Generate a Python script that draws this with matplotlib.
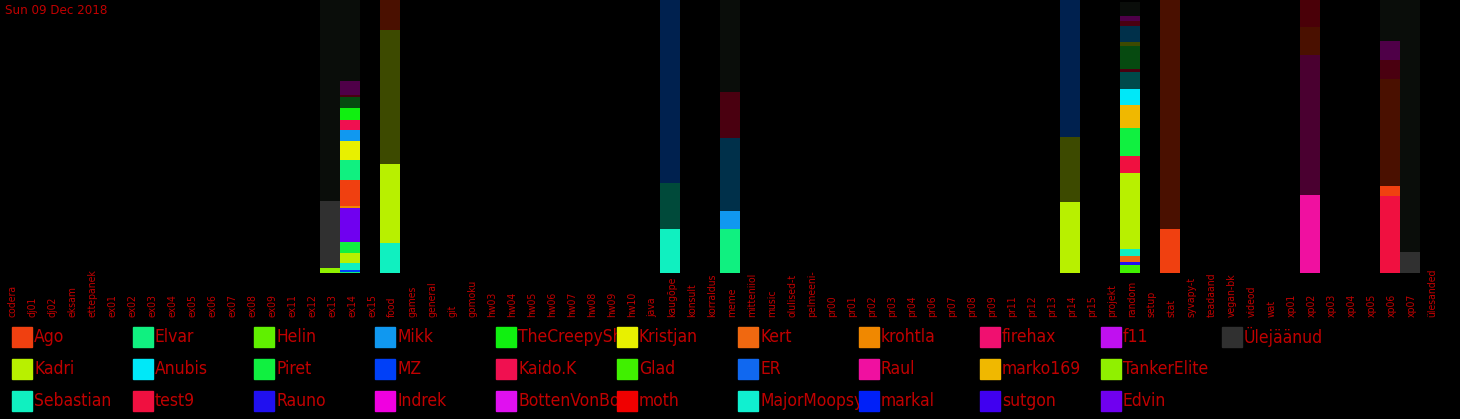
import matplotlib
matplotlib.use('Agg')
import matplotlib.pyplot as plt
from matplotlib import font_manager
from matplotlib.patches import Rectangle
from matplotlib.transforms import Bbox

# channels on the x axis
channels = ['codera', 'dj01', 'dj02', 'eksam', 'ettepanek', 'ex01', 'ex02', 'ex03', 'ex04',
            'ex05', 'ex06', 'ex07', 'ex08', 'ex09', 'ex11', 'ex12', 'ex13', 'ex14', 'ex15',
            'food', 'games', 'general', 'git', 'gomoku', 'hw03', 'hw04', 'hw05', 'hw06',
            'hw07', 'hw08', 'hw09', 'hw10', 'java', 'kaugõpe', 'konsult', 'korraldus', 'meme',
            'mitteniiol', 'music', 'olulised-t', 'pelmeeni-', 'pr00', 'pr01', 'pr02', 'pr03',
            'pr04', 'pr06', 'pr07', 'pr08', 'pr09', 'pr11', 'pr12', 'pr13', 'pr14', 'pr15',
            'projekt', 'random', 'setup', 'stat', 'syvapy-t', 'teadaand', 'vegan-bk', 'videod',
            'wat', 'xp01', 'xp02', 'xp03', 'xp04', 'xp05', 'xp06', 'xp07', 'ülesanded']

# legend users (column-major order as in the picture)
users = ['Ago', 'Kadri', 'Sebastian', 'Elvar', 'Anubis', 'test9', 'Helin', 'Piret', 'Rauno',
         'Mikk', 'MZ', 'Indrek', 'TheCreepySh', 'Kaido.K', 'BottenVonBot', 'Kristjan', 'Glad',
         'moth', 'Kert', 'ER', 'MajorMoopsy', 'krohtla', 'Raul', 'markal', 'firehax',
         'marko169', 'sutgon', 'f11', 'TankerElite', 'Edvin', 'Ülejäänud']
user_colors = ['#f04010', '#b8f000', '#10f0c0', '#10f080', '#00e8f8', '#f01040', '#60f000',
               '#10f040', '#2010f0', '#1098f0', '#0040f8', '#f000e0', '#10f010', '#f01050',
               '#e010f0', '#e8f000', '#40f000', '#f00000', '#f06810', '#1068f0', '#10f0d0',
               '#f08800', '#f010a0', '#0020f8', '#f01070', '#f0b800', '#4000f0', '#c010f0',
               '#90f000', '#7000f0', '#303030']

# dim segments without a legend entry
dim_colors = {'dk_grey': '#0a0d0a', 'dk_olive': '#3d4a00', 'dk_brown': '#4a1000',
              'dk_navy': '#00214f', 'dk_teal': '#004a3a', 'dk_blue': '#00304a',
              'dk_wine': '#4a0010', 'dk_plum': '#4a0030', 'dk_purple': '#4f0048',
              'dk_green': '#064a10', 'dk_cyan': '#004a4a', 'dk_red': '#4a0008'}

# share of each channel per user, bottom to top (percent)
ex13 = [('TankerElite', 1.8), ('Ülejäänud', 24.5), ('dk_grey', 73.7)]
ex14 = [('Elvar', 0.4), ('MZ', 0.7), ('Sebastian', 2.6), ('Kadri', 3.7), ('Piret', 4.0),
        ('Edvin', 12.5), ('krohtla', 0.7), ('Ago', 9.5), ('Elvar', 7.3), ('Kristjan', 7.0),
        ('Mikk', 4.0), ('Kaido.K', 3.7), ('TheCreepySh', 4.4), ('dk_green', 3.8),
        ('dk_wine', 1.0), ('dk_purple', 5.1), ('dk_grey', 29.6)]
food = [('Sebastian', 11.0), ('Kadri', 28.9), ('dk_olive', 49.1), ('dk_brown', 11.0)]
kaugope = [('Sebastian', 16.1), ('dk_teal', 16.9), ('dk_navy', 67.0)]
meme = [('Elvar', 16.1), ('Mikk', 6.6), ('dk_blue', 26.7), ('dk_wine', 16.9), ('dk_grey', 33.7)]
pr14 = [('Kadri', 26.0), ('dk_olive', 23.8), ('dk_navy', 50.2)]
random_ch = [('Glad', 2.9), ('Rauno', 1.1), ('Kert', 2.2), ('Sebastian', 2.6), ('Kadri', 27.8),
             ('test9', 6.2), ('Piret', 10.3), ('marko169', 8.4), ('Anubis', 5.9),
             ('dk_cyan', 6.2), ('dk_wine', 1.1), ('dk_green', 8.4), ('dk_olive', 1.5),
             ('dk_blue', 5.9), ('dk_wine', 1.8), ('dk_purple', 1.8), ('dk_grey', 5.3)]
stat = [('Ago', 16.1), ('dk_brown', 83.9)]
xp02 = [('Raul', 28.6), ('dk_plum', 51.3), ('dk_brown', 10.2), ('dk_red', 9.9)]
xp06 = [('test9', 28.2), ('Ago', 3.7), ('dk_brown', 39.2), ('dk_wine', 7.0),
        ('dk_purple', 7.0), ('dk_grey', 14.9)]
xp07 = [('Ülejäänud', 7.7), ('dk_grey', 92.3)]

bars = {'ex13': ex13, 'ex14': ex14, 'food': food, 'kaugõpe': kaugope, 'meme': meme,
        'pr14': pr14, 'random': random_ch, 'stat': stat, 'xp02': xp02, 'xp06': xp06,
        'xp07': xp07}

title = 'Sun 09 Dec 2018'
txt_color = '#c00000'

# look for some narrow font, the original uses a very condensed face
narrow = None
for f in font_manager.fontManager.ttflist:
    if 'Narrow' in f.name or 'Condensed' in f.name or 'condensed' in str(f.stretch):
        if f.weight in (400, 'normal', 'regular') and f.style == 'normal':
            narrow = f
            break
if narrow is not None:
    fp = font_manager.FontProperties(fname=narrow.fname)
    tick_fs, leg_fs, title_fs = 7.5, 12.5, 9.5
else:
    fp = font_manager.FontProperties(family='DejaVu Sans')
    tick_fs, leg_fs, title_fs = 6.5, 10.5, 8.5

colors = dict(zip(users, user_colors))
colors.update(dim_colors)

W, H = 1460, 419
fig = plt.figure(figsize=(W / 100, H / 100), dpi=100, facecolor='black')
ax = fig.add_axes([0, 1 - 273 / H, 1440 / W, 273 / H])
ax.set_facecolor('black')

for ch, segs in bars.items():
    x = channels.index(ch) + 0.5
    bottom = 0
    for name, val in segs:
        ax.bar(x, val, width=1.0, bottom=bottom, color=colors[name], linewidth=0)
        bottom += val

ax.set_xlim(0, len(channels))
ax.set_ylim(0, 100)
ax.set_xticks([])
ax.set_yticks([])
for s in ax.spines.values():
    s.set_visible(False)

# channel labels, rotated and sitting on a common baseline
lab_y = -44 / 273
for i, ch in enumerate(channels):
    ax.text(i + 0.6, lab_y, ch, transform=ax.get_xaxis_transform(), rotation=90,
            ha='center', va='bottom', color=txt_color, fontproperties=fp,
            fontsize=tick_fs, clip_on=False)

fig.text(5 / W, 1 - 4 / H, title, ha='left', va='top', color=txt_color,
         fontproperties=fp, fontsize=title_fs)

# legend, three rows filled column by column, names cut at the next column
for k, (name, col) in enumerate(zip(users, user_colors)):
    c, r = divmod(k, 3)
    x0 = 12 + c * 121
    yc = 337 + r * 32
    fig.patches.append(Rectangle((x0 / W, 1 - (yc + 10) / H), 20 / W, 20 / H,
                                 transform=fig.transFigure, color=col, figure=fig))
    t = fig.text((x0 + 22) / W, 1 - yc / H, name, ha='left', va='center',
                 color=txt_color, fontproperties=fp, fontsize=leg_fs)
    t.set_clip_box(Bbox.from_extents(x0 + 22, H - yc - 16, x0 + 121, H - yc + 16))
    t.set_clip_on(True)

fig.savefig('out.png', dpi=100, facecolor='black')
